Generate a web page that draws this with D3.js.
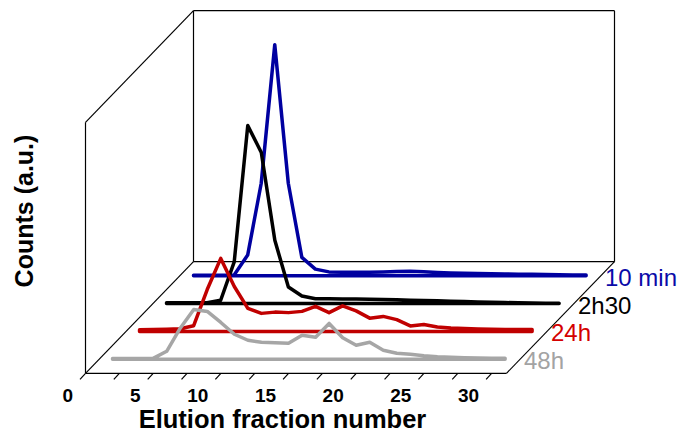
<!DOCTYPE html>
<meta charset="utf-8">
<head>
<script src="https://d3js.org/d3.v7.min.js"></script>
<style>
    body { margin: 0; background: #fff; }
    text { font-family: "Liberation Sans", Arial, sans-serif; }
    .frame { stroke: #000; stroke-width: 1.2px; fill: none; }
    .series { fill: none; stroke-width: 3.5px; stroke-linejoin: round; stroke-linecap: round; }
</style>
</head>
<body>
<svg id="chart" width="689" height="434"></svg>

<script>
    // fraction numbers (x categories)
    var fractions = [1, 2, 3, 4, 5, 6, 7, 8, 9, 10, 11, 12, 13, 14, 15,
                     16, 17, 18, 19, 20, 21, 22, 23, 24, 25, 26, 27, 28, 29, 30];

    // series, front to back
    var seriesNames = ["48h", "24h", "2h30", "10 min"];
    var seriesColors = ["#a6a6a6", "#c00000", "#000000", "#0000a0"];
    var labelColors = ["#a3a3a3", "#d40000", "#000000", "#0a0aa8"];

    // counts (a.u.)
    var counts48h = [0.3, 0.3, 0.3, 0.4, 3.2, 12.4, 19.9, 19.1, 14.7, 10.0, 7.6, 6.8, 6.6, 6.4, 9.6,
                     8.8, 14.3, 8.6, 5.6, 6.8, 3.6, 2.4, 2.0, 1.4, 1.0, 0.8, 0.6, 0.5, 0.4, 0.4];
    var counts24h = [0.7, 0.8, 0.9, 1.1, 2.3, 16.7, 29.1, 17.9, 9.2, 7.2, 7.7, 7.5, 8.0, 10.0, 7.5,
                     10.2, 8.2, 5.3, 6.0, 4.7, 2.2, 2.8, 1.8, 1.4, 1.2, 1.0, 0.9, 0.8, 0.8, 0.8];
    var counts2h30 = [0.3, 0.3, 0.3, 0.3, 1.3, 16.6, 70.9, 60.2, 25.2, 6.6, 3.0, 1.9, 1.9, 1.8, 1.8,
                      1.7, 1.6, 1.5, 1.3, 1.2, 1.1, 0.9, 0.8, 0.6, 0.5, 0.4, 0.3, 0.2, 0.1, 0.1];
    var counts10min = [0.2, 0.2, 0.2, 0.3, 8.2, 36.8, 92.0, 36.8, 7.3, 2.6, 1.5, 1.4, 1.4, 1.4, 1.5,
                       1.7, 1.8, 1.6, 1.3, 1.1, 1.0, 0.9, 0.8, 0.7, 0.6, 0.6, 0.5, 0.4, 0.3, 0.3];
    var allCounts = [counts48h, counts24h, counts2h30, counts10min];

    // axis ticks
    var tickValues = [0, 2.5, 5, 7.5, 10, 12.5, 15, 17.5, 20, 22.5, 25, 27.5, 30];
    var tickLabels = [0, 5, 10, 15, 20, 25, 30];

    var svg = d3.select("#chart");

    // pseudo 3D layout
    var floorY = 373.3;          // front edge of the floor
    var depthX = 108, depthY = 111.6;
    var x = d3.scaleLinear().domain([0, 31.1]).range([85.5, 506.5]);
    var h = d3.scaleLinear().domain([0, 100]).range([0, 251]);
    var depth = d3.scaleBand().domain(seriesNames).range([0, 1]);

    function px(f, t) { return x(f) + depthX * t; }
    function py(v, t) { return floorY - depthY * t - h(v); }

    var xMax = x.domain()[1];
    var frame = svg.append("g");
    function seg(x1, y1, x2, y2) {
      frame.append("line").attr("class", "frame")
        .attr("x1", x1).attr("y1", y1).attr("x2", x2).attr("y2", y2);
    }
    // left wall
    seg(px(0, 0), py(0, 0), px(0, 0), py(100, 0));
    seg(px(0, 0), py(100, 0), px(0, 1), py(100, 1));
    seg(px(0, 1), py(0, 1), px(0, 1), py(100, 1));
    // back wall
    seg(px(0, 1), py(100, 1), px(xMax, 1), py(100, 1));
    seg(px(xMax, 1), py(100, 1), px(xMax, 1), py(0, 1));
    // floor
    seg(px(0, 0), py(0, 0), px(xMax, 0), py(0, 0));
    seg(px(0, 1), py(0, 1), px(xMax, 1), py(0, 1));
    seg(px(0, 0), py(0, 0), px(0, 1), py(0, 1));
    seg(px(xMax, 0), py(0, 0), px(xMax, 1), py(0, 1));

    // ticks slanting to the front
    tickValues.forEach(function(t) {
      seg(x(t), floorY, x(t) - 5.5, floorY + 6);
    });
    svg.append("g").selectAll("text")
      .data(tickLabels)
      .enter().append("text")
      .attr("x", function(d) { return x(d) - 12.5; })
      .attr("y", 401.5)
      .attr("text-anchor", "end")
      .attr("font-size", 19)
      .attr("font-weight", "bold")
      .text(function(d) { return d; });

    // series, drawn back to front
    var order = [3, 2, 1, 0];
    order.forEach(function(i) {
      var t = depth(seriesNames[i]) + depth.bandwidth() / 2;
      var pts = fractions.map(function(f, j) { return { f: f, v: allCounts[i][j] }; });
      var area = d3.area()
        .x(function(d) { return px(d.f, t); })
        .y0(py(0, t))
        .y1(function(d) { return py(d.v, t); });
      svg.append("path")
        .attr("class", "series")
        .attr("stroke", seriesColors[i])
        .attr("d", area(pts));
      svg.append("text")
        .attr("x", px(xMax, t) + 4)
        .attr("y", py(0, t) + 10)
        .attr("font-size", 24)
        .attr("fill", labelColors[i])
        .text(seriesNames[i]);
    });

    // axis titles
    svg.append("text")
      .attr("x", 282.5)
      .attr("y", 428)
      .attr("text-anchor", "middle")
      .attr("font-size", 25.5)
      .attr("font-weight", "bold")
      .text("Elution fraction number");

    svg.append("text")
      .attr("transform", "translate(33,211) rotate(-90)")
      .attr("text-anchor", "middle")
      .attr("font-size", 25)
      .attr("font-weight", "bold")
      .text("Counts (a.u.)");
</script>
</body>
